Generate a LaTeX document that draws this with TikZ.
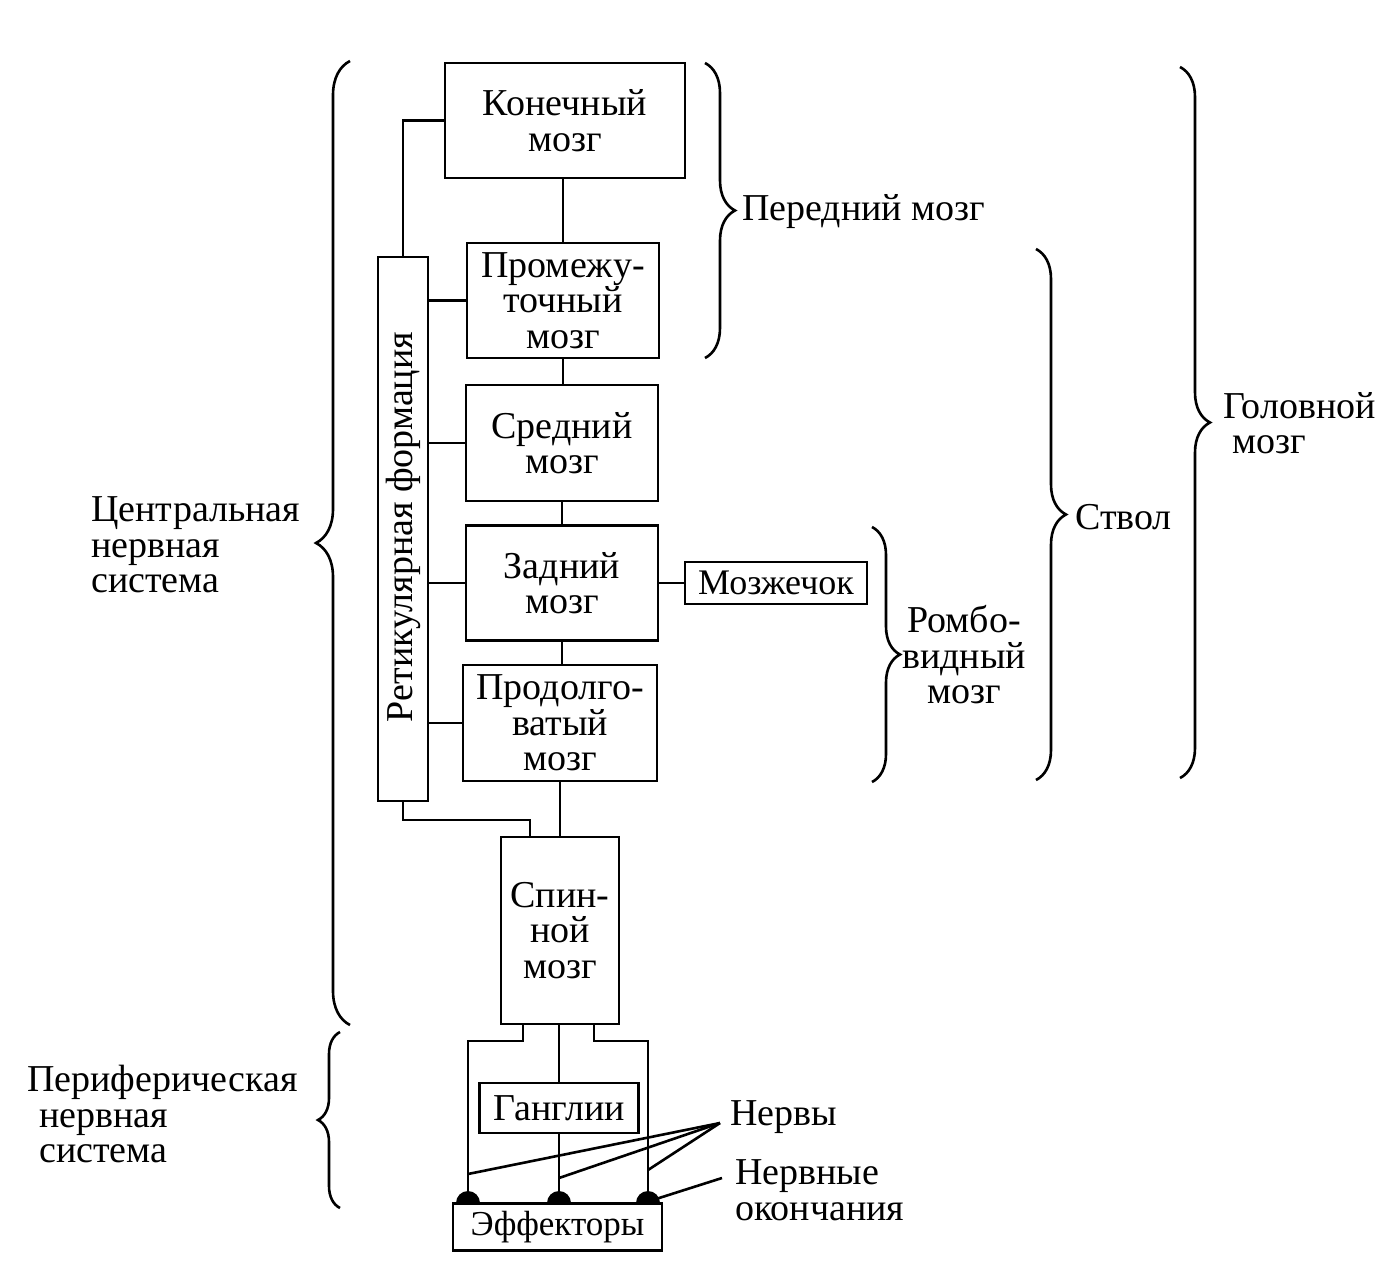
\documentclass[tikz,border=0pt]{standalone}
\usepackage{fontspec}
\setmainfont{Liberation Serif}
\usetikzlibrary{decorations.pathreplacing}
\begin{document}
\begin{tikzpicture}[x=1pt,y=-1pt,line width=2.6pt,line join=miter,
  txt/.style={inner sep=0pt,font=\fontsize{38}{35.5}\selectfont},
  box/.style={txt,draw,align=center},
  brc/.style={decorate,decoration={brace,amplitude=#1}}]
\useasboundingbox (0,0) rectangle (1386,1269);
% boxes
\node[box,minimum width=240,minimum height=115] (kon) at (565,120.5) {Конечный\\мозг};
\node[box,minimum width=192,minimum height=115] (prom) at (563,300.5) {Промежу-\\точный\\мозг};
\node[box,minimum width=192,minimum height=116] (sred) at (562,443) {Средний\\мозг};
\node[box,minimum width=192,minimum height=115] (zad) at (562,583) {Задний\\мозг};
\node[box,minimum width=194,minimum height=116] (prod) at (560,723) {Продолго-\\ватый\\мозг};
\node[box,minimum width=50,minimum height=544] (ret) at (403,529) {};
\node[txt,rotate=90] (rettxt) at (403,527) {Ретикулярная формация};
\node[box,minimum width=182,minimum height=42,font=\fontsize{36}{35}\selectfont] (mozj) at (776,583) {Мозжечок};
\node[box,minimum width=118,minimum height=187] (spin) at (560,930.5) {Спин-\\ной\\мозг};
\node[box,minimum width=159,minimum height=50] (gang) at (559,1108) {Ганглии};
% main chain
\draw (kon.south -| prom.north) -- (prom.north);
\draw (prom.south) -- (prom.south |- sred.north);
\draw (sred.south) -- (sred.south |- zad.north);
\draw (zad.south) -- (zad.south |- prod.north);
\draw (prod.south) -- (prod.south |- spin.north);
\draw (zad.east) -- (zad.east -| mozj.west);
% reticular connections
\draw (ret.north) |- (kon.west);
\draw (ret.east |- prom.west) -- (prom.west);
\draw (ret.east |- sred.west) -- (sred.west);
\draw (ret.east |- zad.west) -- (zad.west);
\draw (ret.east |- prod.west) -- (prod.west);
\coordinate (rb) at (530,820);
\draw (ret.south) |- (rb) -- (rb |- spin.north);
% spinal branches
\coordinate (d1) at (468,1203);
\coordinate (d2) at (559,1203);
\coordinate (d3) at (648,1203);
\coordinate (sl) at (523,1041);
\coordinate (sr) at (594,1041);
\draw (sl |- spin.south) -- (sl) -| (d1);
\draw (sr |- spin.south) -- (sr) -| (d3);
\draw (gang.north |- spin.south) -- (gang.north);
\draw (gang.south) -- (d2);
\fill (d1) circle (12);
\fill (d2) circle (12);
\fill (d3) circle (12);
\node[box,fill=white,minimum width=209,minimum height=47,font=\fontsize{35}{35}\selectfont] (eff) at (557.5,1227) {Эффекторы};
% nerves
\coordinate (nv) at (720,1123);
\coordinate (n1) at (468,1174);
\coordinate (n2) at (559,1178);
\coordinate (n3) at (648,1170);
\draw (nv) -- (n1);
\draw (nv) -- (n2);
\draw (nv) -- (n3);
\coordinate (ne) at (722,1178);
\coordinate (ne2) at (656,1199);
\draw (ne) -- (ne2);
\node[txt,anchor=west] (nervy) at (729,1117) {Нервы};
\node[txt,anchor=west,align=left] (okon) at (734,1190) {Нервные\\окончания};
% braces
\draw[brc=34pt] (350,1025) -- (350,61);
\draw[brc=22pt] (340,1208) -- (340,1032);
\draw[brc=30pt] (705,63) -- (705,358);
\draw[brc=28pt] (872,527) -- (872,782);
\draw[brc=30pt] (1036,249) -- (1036,780);
\draw[brc=30pt] (1180,67) -- (1180,778);
% labels
\node[txt,anchor=west,align=left] (cns) at (90,545) {Центральная\\нервная\\система};
\node[txt,anchor=west,align=left] (pns) at (26,1114) {Периферическая\\\hspace*{12pt}нервная\\\hspace*{12pt}система};
\node[txt,anchor=west] (pered) at (741,212) {Передний мозг};
\node[txt,anchor=west] (stvol) at (1074,517) {Ствол};
\node[txt,align=center] (romb) at (964,655) {Ромбо-\\видный\\мозг};
\node[txt,anchor=west,align=left] (golov) at (1222,423) {Головной\\\hspace*{9pt}мозг};
\end{tikzpicture}
\end{document}
